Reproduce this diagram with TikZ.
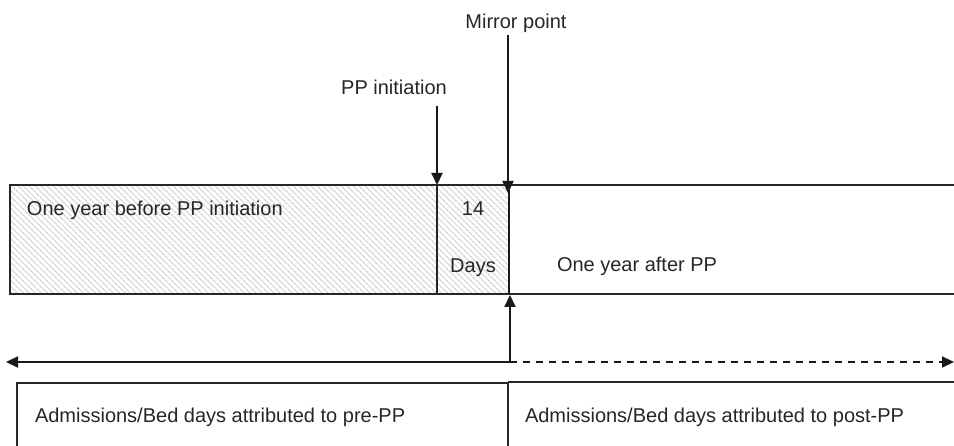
\documentclass[tikz,border=0pt]{standalone}
\usepackage{fontspec}
\setmainfont{Liberation Sans}
\usetikzlibrary{arrows.meta,patterns.meta}
\tikzset{
  lbl/.style={font=\fontsize{20}{24}\selectfont, inner sep=0pt, outer sep=0pt, text=black!85},
  region/.style={draw=black!85, line width=1.3pt, inner sep=0pt, outer sep=0pt, anchor=north west},
  hatched/.style={region, pattern={Lines[angle=-45,distance=4pt,line width=1.4pt]}, pattern color=black!16},
  arr/.style={line width=2.1pt, draw=black!90, -{Triangle[length=12pt,width=11pt]}},
}
\begin{document}
\begin{tikzpicture}[x=1pt,y=-1pt]
\useasboundingbox (0,0) rectangle (954,446);
% main row
\node[hatched, minimum width=427pt, minimum height=109pt] (before) at (10,185) {};
\node[hatched, minimum width=72pt, minimum height=109pt] (days) at (437,185) {};
\coordinate (aftTL) at (509,185);
\coordinate (aftTR) at (954,185);
\coordinate (aftBL) at (509,294);
\coordinate (aftBR) at (954,294);
\draw[line width=1.3pt, black!85] (aftTL) -- (aftTR);
\draw[line width=1.3pt, black!85] (aftBL) -- (aftBR);
\draw[line width=2.5pt, black!90] (aftTL) -- (aftBL);
% texts in row
\node[lbl, anchor=base west] (tbefore) at (27,216) {One year before PP initiation};
\node[lbl, anchor=base] (t14) at (473,216) {14};
\node[lbl, anchor=base] (tdays) at (473,273) {Days};
\node[lbl, anchor=base west] (tafter) at (557,272) {One year after PP};
% labels above
\node[lbl, anchor=base] (ppi) at (394,95) {PP initiation};
\node[lbl, anchor=base] (mir) at (516,29) {Mirror point};
\coordinate (ppiTop) at (437,106);
\coordinate (ppiTip) at (437,185);
\coordinate (mirTop) at (508,35);
\coordinate (mirTip) at (508,193);
\draw[arr] (ppiTop) -- (ppiTip);
\draw[arr] (mirTop) -- (mirTip);
% timeline
\coordinate (tlMid) at (510,362);
\coordinate (tlL) at (6,362);
\coordinate (tlR) at (954,362);
\coordinate (upTip) at (510,295);
\draw[arr] (tlMid) -- (upTip);
\draw[arr] (tlMid) -- (tlL);
\draw[arr, dash pattern=on 7pt off 6pt] (tlMid) -- (tlR);
% bottom boxes
\coordinate (b1TL) at (17,383);
\coordinate (b1BL) at (17,447);
\coordinate (b1TR) at (508,383);
\coordinate (b1BR) at (508,447);
\coordinate (b2TR) at (954,382);
\coordinate (b2TL) at (508,382);
\draw[line width=1.2pt, black!85] (b1BL) -- (b1TL) -- (b1TR) -- (b1BR);
\draw[line width=1.2pt, black!85] (b2TL) -- (b2TR);
\node[lbl, anchor=base west] (pre) at (35,423) {Admissions/Bed days attributed to pre-PP};
\node[lbl, anchor=base west] (post) at (525,423) {Admissions/Bed days attributed to post-PP};
\end{tikzpicture}
\end{document}
